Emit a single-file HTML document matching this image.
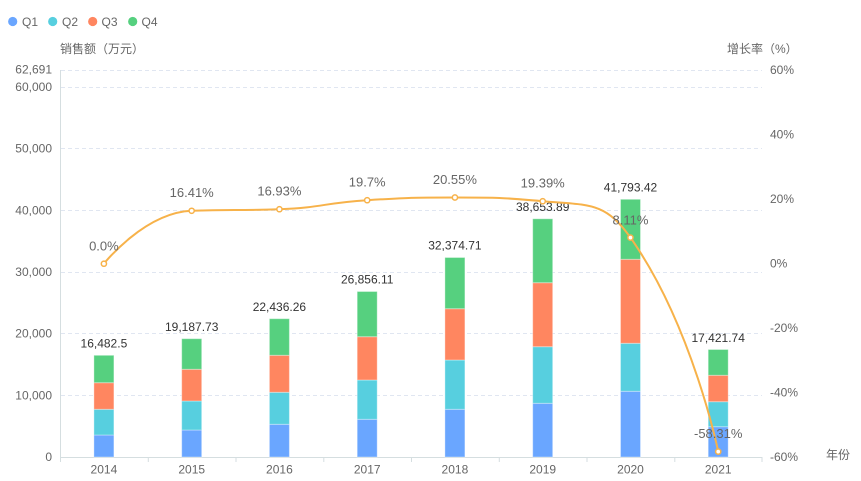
<!DOCTYPE html>
<html><head><meta charset="utf-8"><style>
html,body{margin:0;padding:0;background:#fff;}
svg{display:block;}
text{font-family:"Liberation Sans","Noto Sans CJK SC",sans-serif;}
</style></head><body>
<svg width="861" height="481" viewBox="0 0 861 481" xmlns="http://www.w3.org/2000/svg">
<!-- legend -->
<g font-size="12" fill="#666">
<circle cx="12.7" cy="21.5" r="4.6" fill="#6AA6FF"/><text x="22" y="25.8">Q1</text>
<circle cx="52.7" cy="21.5" r="4.6" fill="#57CFDF"/><text x="62" y="25.8">Q2</text>
<circle cx="92.7" cy="21.5" r="4.6" fill="#FF8660"/><text x="101.5" y="25.8">Q3</text>
<circle cx="132.7" cy="21.5" r="4.6" fill="#56D07F"/><text x="141.5" y="25.8">Q4</text>
</g>
<!-- axis names -->
<text x="60" y="53" font-size="12" fill="#666">销售额（万元）</text>
<text x="727" y="53" font-size="12" fill="#666">增长率（%）</text>
<text x="826" y="459" font-size="12" fill="#666">年份</text>
<!-- grid -->
<g stroke="#E0E6F1" stroke-width="1" stroke-dasharray="4 3">
<line x1="61" y1="70.5" x2="762" y2="70.5"/>
<line x1="61" y1="87.5" x2="762" y2="87.5"/>
<line x1="61" y1="148.5" x2="762" y2="148.5"/>
<line x1="61" y1="210.5" x2="762" y2="210.5"/>
<line x1="61" y1="272.5" x2="762" y2="272.5"/>
<line x1="61" y1="333.5" x2="762" y2="333.5"/>
<line x1="61" y1="395.5" x2="762" y2="395.5"/>
</g>
<!-- left labels -->
<g font-size="12" fill="#666" text-anchor="end">
<text x="52" y="73.5">62,691</text>
<text x="52" y="91">60,000</text>
<text x="52" y="152.5">50,000</text>
<text x="52" y="214.3">40,000</text>
<text x="52" y="276">30,000</text>
<text x="52" y="337.7">20,000</text>
<text x="52" y="399.3">10,000</text>
<text x="52" y="461">0</text>
</g>
<!-- right labels -->
<g font-size="12" fill="#666">
<text x="770" y="74">60%</text>
<text x="770" y="138.5">40%</text>
<text x="770" y="203">20%</text>
<text x="770" y="267.5">0%</text>
<text x="770" y="332">-20%</text>
<text x="770" y="396.5">-40%</text>
<text x="770" y="461">-60%</text>
</g>
<!-- axes -->
<line x1="60.5" y1="70" x2="60.5" y2="457" stroke="#D5DEE0" stroke-width="1"/>
<line x1="60" y1="457.5" x2="762.5" y2="457.5" stroke="#D5DEE0" stroke-width="1"/>
<g stroke="#D5DEE0" stroke-width="1">
<line x1="60.5" y1="457" x2="60.5" y2="462"/>
<line x1="148.3" y1="457" x2="148.3" y2="462"/>
<line x1="236" y1="457" x2="236" y2="462"/>
<line x1="323.8" y1="457" x2="323.8" y2="462"/>
<line x1="411.5" y1="457" x2="411.5" y2="462"/>
<line x1="499.3" y1="457" x2="499.3" y2="462"/>
<line x1="587" y1="457" x2="587" y2="462"/>
<line x1="674.8" y1="457" x2="674.8" y2="462"/>
<line x1="762" y1="457" x2="762" y2="462"/>
</g>
<g font-size="12" fill="#666" text-anchor="middle">
<text x="103.9" y="473.5">2014</text>
<text x="191.7" y="473.5">2015</text>
<text x="279.4" y="473.5">2016</text>
<text x="367.2" y="473.5">2017</text>
<text x="454.9" y="473.5">2018</text>
<text x="542.7" y="473.5">2019</text>
<text x="630.5" y="473.5">2020</text>
<text x="718.2" y="473.5">2021</text>
</g>
<!-- bars -->
<g stroke="rgba(255,255,255,0.35)" stroke-width="1">
<!-- 2014 -->
<rect x="93.9" y="435" width="20" height="22" fill="#6AA6FF"/>
<rect x="93.9" y="409.3" width="20" height="25.7" fill="#57CFDF"/>
<rect x="93.9" y="382.7" width="20" height="26.6" fill="#FF8660"/>
<rect x="93.9" y="355.3" width="20" height="27.4" fill="#56D07F"/>
<!-- 2015 -->
<rect x="181.7" y="430" width="20" height="27" fill="#6AA6FF"/>
<rect x="181.7" y="401" width="20" height="29" fill="#57CFDF"/>
<rect x="181.7" y="369.3" width="20" height="31.7" fill="#FF8660"/>
<rect x="181.7" y="338.7" width="20" height="30.6" fill="#56D07F"/>
<!-- 2016 -->
<rect x="269.4" y="424.3" width="20" height="32.7" fill="#6AA6FF"/>
<rect x="269.4" y="392.3" width="20" height="32" fill="#57CFDF"/>
<rect x="269.4" y="355.3" width="20" height="37" fill="#FF8660"/>
<rect x="269.4" y="318.7" width="20" height="36.6" fill="#56D07F"/>
<!-- 2017 -->
<rect x="357.2" y="419.3" width="20" height="37.7" fill="#6AA6FF"/>
<rect x="357.2" y="380" width="20" height="39.3" fill="#57CFDF"/>
<rect x="357.2" y="336.7" width="20" height="43.3" fill="#FF8660"/>
<rect x="357.2" y="291.5" width="20" height="45.2" fill="#56D07F"/>
<!-- 2018 -->
<rect x="444.9" y="409.3" width="20" height="47.7" fill="#6AA6FF"/>
<rect x="444.9" y="360" width="20" height="49.3" fill="#57CFDF"/>
<rect x="444.9" y="308.7" width="20" height="51.3" fill="#FF8660"/>
<rect x="444.9" y="257.5" width="20" height="51.2" fill="#56D07F"/>
<!-- 2019 -->
<rect x="532.7" y="403.3" width="20" height="53.7" fill="#6AA6FF"/>
<rect x="532.7" y="346.7" width="20" height="56.6" fill="#57CFDF"/>
<rect x="532.7" y="282.7" width="20" height="64" fill="#FF8660"/>
<rect x="532.7" y="218.8" width="20" height="63.9" fill="#56D07F"/>
<!-- 2020 -->
<rect x="620.5" y="391.3" width="20" height="65.7" fill="#6AA6FF"/>
<rect x="620.5" y="343.3" width="20" height="48" fill="#57CFDF"/>
<rect x="620.5" y="259.3" width="20" height="84" fill="#FF8660"/>
<rect x="620.5" y="199.3" width="20" height="60" fill="#56D07F"/>
<!-- 2021 -->
<rect x="708.2" y="426.7" width="20" height="30.3" fill="#6AA6FF"/>
<rect x="708.2" y="401.7" width="20" height="25" fill="#57CFDF"/>
<rect x="708.2" y="375.3" width="20" height="26.4" fill="#FF8660"/>
<rect x="708.2" y="349.5" width="20" height="25.8" fill="#56D07F"/>
</g>
<!-- bar totals -->
<g font-size="12" fill="#333" text-anchor="middle">
<text x="103.9" y="347.5">16,482.5</text>
<text x="191.7" y="330.8">19,187.73</text>
<text x="279.4" y="310.8">22,436.26</text>
<text x="367.2" y="283.7">26,856.11</text>
<text x="454.9" y="249.7">32,374.71</text>
<text x="542.7" y="211">38,653.89</text>
<text x="630.5" y="191.5">41,793.42</text>
<text x="718.2" y="341.8">17,421.74</text>
</g>
<!-- line -->
<path d="M103.9,263.7 C103.9,263.7 144.39,212.67 191.66,210.8 C232.15,209.2 235.65,210.8 279.42,209.2 C323.41,207.59 323.2,202.91 367.18,200.2 C410.95,197.5 411.08,197.5 454.94,197.5 C498.82,197.5 500.54,197.5 542.7,201.2 C588.3,205.2 604.91,201.2 630.46,237.6 C692.66,326.2 718.22,451.6 718.22,451.6" fill="none" stroke="#F7B24A" stroke-width="2"/>
<g fill="#fff" stroke="#F7B24A" stroke-width="1.5">
<circle cx="103.9" cy="263.7" r="2.6"/>
<circle cx="191.66" cy="210.8" r="2.6"/>
<circle cx="279.42" cy="209.2" r="2.6"/>
<circle cx="367.18" cy="200.2" r="2.6"/>
<circle cx="454.94" cy="197.5" r="2.6"/>
<circle cx="542.7" cy="201.2" r="2.6"/>
<circle cx="630.46" cy="237.6" r="2.6"/>
<circle cx="718.22" cy="451.6" r="2.6"/>
</g>
<!-- percent labels -->
<g font-size="13" fill="#666" text-anchor="middle">
<text x="103.9" y="250.3">0.0%</text>
<text x="191.7" y="197.2">16.41%</text>
<text x="279.4" y="195.7">16.93%</text>
<text x="367.2" y="186.7">19.7%</text>
<text x="454.9" y="184">20.55%</text>
<text x="542.7" y="187.7">19.39%</text>
<text x="630.5" y="224.3">8.11%</text>
<text x="718.2" y="437.8">-58.31%</text>
</g>
</svg>
</body></html>
